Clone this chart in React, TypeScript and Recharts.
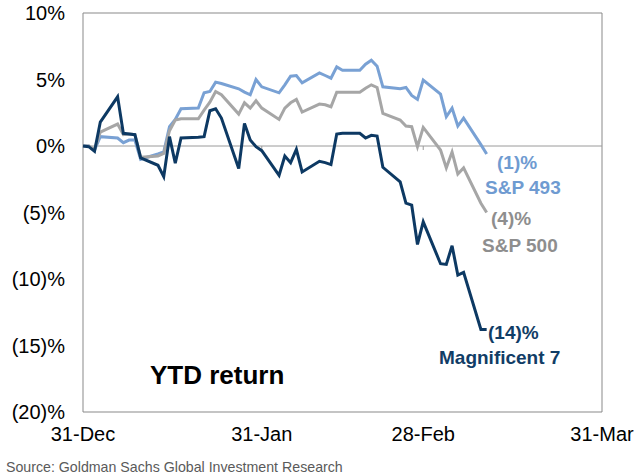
import React from "react";
import {
  LineChart,
  Line,
  XAxis,
  YAxis,
  ReferenceLine,
  ReferenceArea,
} from "recharts";

// days after 31-Dec (weekdays, holidays carried flat)
const days = [
  0, 1, 2, 3, 6, 7, 8, 9, 10, 13, 14, 15, 16, 17, 20, 21, 22, 23, 24, 27, 28,
  29, 30, 31, 34, 35, 36, 37, 38, 41, 42, 43, 44, 45, 48, 49, 50, 51, 52, 55,
  56, 57, 58, 59, 62, 63, 64, 65, 66, 69, 70,
];

const sp493 = [
  0, 0, -0.3, 0.7, 0.6, 0.25, 0.45, 0.45, -1.0, -0.6, -0.45, 1.45, 2.0, 2.8,
  2.85, 4.0, 4.1, 4.8, 4.7, 4.3, 4.05, 3.85, 5.0, 4.45, 4.0, 4.6, 5.25, 5.3,
  4.75, 5.5, 5.3, 5.1, 5.95, 5.7, 5.7, 6.15, 6.45, 6.0, 4.45, 4.3, 4.4, 3.8,
  3.5, 4.95, 3.9, 2.2, 2.85, 1.5, 2.1, 0.1, -0.6,
];

const sp500 = [
  0, 0, -0.25, 1.05, 1.65, 0.85, 0.9, 0.85, -0.85, -0.75, -0.55, 1.15, 1.95,
  2.05, 2.05, 2.7, 3.3, 4.1, 3.85, 2.4, 3.25, 2.85, 3.4, 2.85, 2.0, 2.85, 3.25,
  3.5, 2.55, 3.15, 3.1, 2.95, 4.05, 4.05, 4.05, 4.35, 4.6, 4.4, 2.45, 1.95,
  1.5, 1.45, -0.05, 1.4, -0.3, -1.65, -0.45, -2.1, -1.65, -4.3, -5.0,
];

const mag7 = [
  0, -0.05, -0.4, 1.8, 3.7, 0.95, 0.9, 0.85, -0.9, -1.45, -2.3, 0.7, -1.3, 0.6,
  0.65, 0.7, 2.65, 2.8, 2.1, -1.7, 1.7, 0.45, -0.05, -0.35, -2.2, -0.75, -1.25,
  -0.25, -1.95, -1.15, -1.25, -1.4, 0.9, 0.95, 0.95, 0.6, 0.8, 0.75, -1.6,
  -2.7, -4.3, -4.45, -7.4, -5.7, -8.85, -8.9, -7.5, -9.7, -9.5, -13.8, -13.8,
];

const xTicks = [0, 31, 59, 90];
const xTickLabels = ["31-Dec", "31-Jan", "28-Feb", "31-Mar"];
const yTicks = [-20, -15, -10, -5, 0, 5, 10];

const data = days.map((d, i) => ({
  day: d,
  sp493: sp493[i],
  sp500: sp500[i],
  mag7: mag7[i],
}));

const FONT = "'Liberation Sans', Arial, sans-serif";
const BLUE = "#79a1d4";
const GREY = "#a6a6a6";
const NAVY = "#0d3963";

function pct(v: number) {
  return v < 0 ? `(${-v})%` : `${v}%`;
}

export default function App() {
  return (
    <div
      style={{
        position: "absolute",
        left: 0,
        top: 0,
        width: 638,
        height: 476,
        background: "#fff",
        fontFamily: FONT,
      }}
    >
      <LineChart
        width={638}
        height={476}
        data={data}
        margin={{ top: 13, right: 36, bottom: 34, left: 0 }}
      >
        <ReferenceArea
          x1={0}
          x2={90}
          y1={-20}
          y2={10}
          fill="none"
          stroke="#898989"
          strokeWidth={1}
          ifOverflow="visible"
        />
        <XAxis
          dataKey="day"
          type="number"
          domain={[0, 90]}
          ticks={xTicks}
          interval={0}
          tickFormatter={(v: number) => xTickLabels[xTicks.indexOf(v)]}
          axisLine={false}
          tickLine={false}
          tickSize={0}
          tickMargin={15}
          height={30}
          tick={{ fontSize: 20, fill: "#000", fontFamily: FONT }}
        />
        <YAxis
          type="number"
          domain={[-20, 10]}
          ticks={yTicks}
          interval={0}
          tickFormatter={pct}
          axisLine={false}
          tickLine={false}
          tickSize={0}
          tickMargin={18}
          width={83}
          tick={{ fontSize: 20, fill: "#000", fontFamily: FONT }}
        />
        <ReferenceLine y={0} stroke="#9a9a9a" strokeWidth={1} />
        <ReferenceLine
          segment={[
            { x: 31, y: 0 },
            { x: 31, y: -0.3 },
          ]}
          stroke="#9a9a9a"
        />
        <ReferenceLine
          segment={[
            { x: 59, y: 0 },
            { x: 59, y: -0.3 },
          ]}
          stroke="#9a9a9a"
        />
        <Line
          dataKey="sp493"
          stroke={BLUE}
          strokeWidth={3}
          dot={false}
          type="linear"
          isAnimationActive={false}
        />
        <Line
          dataKey="sp500"
          stroke={GREY}
          strokeWidth={3}
          dot={false}
          type="linear"
          isAnimationActive={false}
        />
        <Line
          dataKey="mag7"
          stroke={NAVY}
          strokeWidth={3}
          dot={false}
          type="linear"
          isAnimationActive={false}
        />
      </LineChart>
      <svg
        width={638}
        height={476}
        style={{ position: "absolute", left: 0, top: 0, pointerEvents: "none" }}
        fontFamily={FONT}
      >
        <text x={497} y={169} fontSize={19} fontWeight="bold" fill="#6f9bd1">
          (1)%
        </text>
        <text x={485} y={194} fontSize={19} fontWeight="bold" fill="#6f9bd1">
          S&amp;P 493
        </text>
        <text x={491} y={225} fontSize={19} fontWeight="bold" fill="#8e8e8e">
          (4)%
        </text>
        <text x={482} y={252} fontSize={19} fontWeight="bold" fill="#8e8e8e">
          S&amp;P 500
        </text>
        <text x={488} y={339} fontSize={19} fontWeight="bold" fill="#113d66">
          (14)%
        </text>
        <text x={439} y={364} fontSize={19} fontWeight="bold" fill="#113d66">
          Magnificent 7
        </text>
        <text x={150} y={384} fontSize={26} fontWeight="bold" fill="#000">
          YTD return
        </text>
        <text x={6} y={472} fontSize={14.2} fill="#5a5a5a">
          Source: Goldman Sachs Global Investment Research
        </text>
      </svg>
    </div>
  );
}
